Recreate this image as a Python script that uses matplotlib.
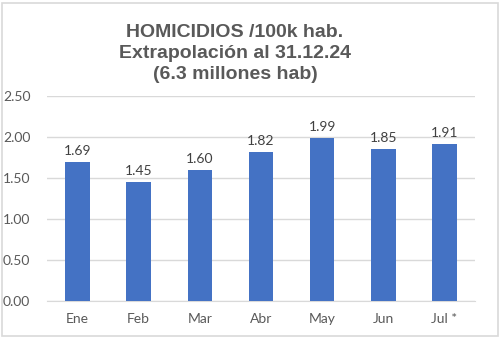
import matplotlib
matplotlib.use("Agg")
import matplotlib.pyplot as plt
from matplotlib.patches import Rectangle

months = ["Ene", "Feb", "Mar", "Abr", "May", "Jun", "Jul *"]
rates = [1.69, 1.45, 1.60, 1.82, 1.99, 1.85, 1.91]
yticks = [0.0, 0.5, 1.0, 1.5, 2.0, 2.5]

fig = plt.figure(figsize=(5, 3.4), dpi=100)
fig.patches.append(Rectangle((0.003, 0.012), 0.993, 0.98, transform=fig.transFigure,
                             fill=False, edgecolor="#d9d9d9", linewidth=1.2))

ax = fig.add_axes([0.094, 0.115, 0.856, 0.603])
x = range(len(months))
bars = ax.bar(x, rates, width=0.4, color="#4472C4", zorder=3)

for b, v in zip(bars, rates):
    ax.text(b.get_x() + b.get_width() / 2, v + 0.06, "%.2f" % v, ha="center", va="bottom",
            fontsize=10, color="#404040", family="Lato")

ax.set_ylim(0, 2.5)
ax.set_xlim(-0.5, len(months) - 0.5)
ax.set_yticks(yticks)
ax.set_yticklabels(["%.2f" % t for t in yticks])
ax.set_xticks(list(x))
ax.set_xticklabels(months)
ax.yaxis.grid(True, color="#d9d9d9", linewidth=1, zorder=0)
ax.tick_params(length=0, labelsize=10, labelcolor="#595959")
ax.tick_params(axis="y", pad=12)
ax.tick_params(axis="x", pad=9)
for lbl in ax.get_xticklabels() + ax.get_yticklabels():
    lbl.set_family("Lato")
for s in ["top", "right", "left"]:
    ax.spines[s].set_visible(False)
ax.spines["bottom"].set_color("#d9d9d9")

fig.text(0.47, 0.842, "HOMICIDIOS /100k hab.\nExtrapolación al 31.12.24\n(6.3 millones hab)",
         ha="center", va="center", fontsize=14, fontweight="bold", color="#595959",
         family="Liberation Sans", linespacing=1.32)

fig.savefig("out.png", dpi=100)
